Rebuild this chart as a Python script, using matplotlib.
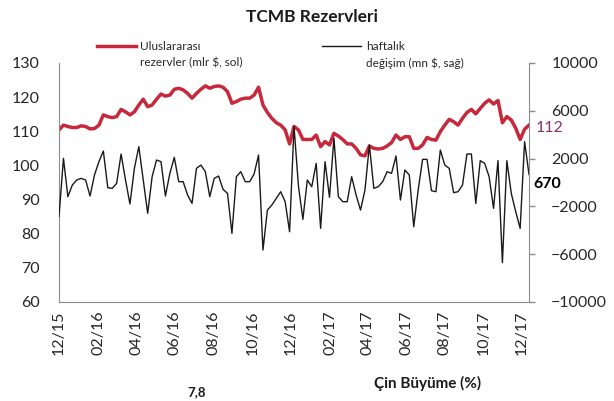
import matplotlib
matplotlib.use("Agg")
import matplotlib.pyplot as plt
from matplotlib.lines import Line2D
import pandas as pd

plt.rcParams['font.family'] = ['Lato', 'DejaVu Sans']

# weekly data, Dec 2015 - Dec 2017
rezerv = [110.4, 111.8, 111.4, 111.1, 111.1, 111.6, 111.4, 110.7, 110.8, 111.8,
          114.8, 114.3, 114.0, 114.3, 116.4, 115.7, 114.8, 115.7, 117.7, 119.4,
          117.2, 117.7, 119.4, 120.9, 120.3, 120.6, 122.3, 122.6,
          122.1, 121.1, 119.7, 121.1, 122.3, 123.3, 122.6, 123.1, 123.3, 122.9,
          121.6, 118.2, 118.7, 119.4, 119.7, 119.7, 120.6, 122.9, 117.7, 115.5,
          113.8, 112.5, 111.8, 110.4, 106.3, 111.4,
          110.4, 107.6, 107.6, 107.6, 108.9, 105.5, 107.0, 106.0, 109.4, 108.6,
          107.6, 106.3, 106.3, 105.0, 103.1, 102.8, 105.7, 105.0, 104.8, 105.0,
          105.7, 106.7, 108.9, 107.6, 108.4, 108.4, 105.0, 105.0,
          106.0, 108.2, 107.6, 107.4, 109.9, 111.8, 113.5, 112.8, 111.8, 113.8,
          115.5, 116.4, 115.1, 116.7, 118.2, 119.2, 118.0, 119.0, 112.5, 114.3,
          113.3, 110.9, 107.6, 110.6, 111.8]
haftalik = [-2862, 2020, -1188, -212, 207, 346, 207, -1132, 625, 1741,
            2634, -435, -491, -72, 2383, 207, -1802, 1184, 2997, 207,
            -2583, 486, 1881, 1741, -1132, 765, 2104, 67,
            67, -1049, -1746, 1184, 1462, 905, -1188, 346, 542, -574,
            -909, -4257, 486, 905, 67, 67, 709, 2299, -5652, -2304,
            -1886, -1328, -770, -1607, -4118, 4700,
            -300, -3085, 207, -351, 1602, -3839, 1741, -1244, 3694, -1188,
            -1607, -1607, 486, -1049, -2304, -630, 3137, -491, -351, 67,
            905, 765, 2216, -1467, 1044, 625, -3699, -630,
            1937, 1937, -686, -770, 2718, 1462, 1184, -853, -770, -212,
            2383, 2383, -1746, 1825, 1602, 486, -2165, 1825, -6712, 1825,
            -909, -2444, -3839, 3416, 670]
tarih = pd.date_range('2015-12-04', periods=len(rezerv), freq='7D')
sol_ticks = list(range(60, 131, 10))
sag_ticks = list(range(-10000, 10001, 4000))

red = '#C8283C'
grey = '#8C8C8C'
txt = '#262626'

fig = plt.figure(figsize=(6.14, 4.01), dpi=100)
ax = fig.add_axes([0.0961, 0.2469, 0.7655, 0.596])
ax2 = ax.twinx()

ax.plot(tarih, rezerv, color=red, lw=2.5, solid_joinstyle='round')
ax2.plot(tarih, haftalik, color='#1a1a1a', lw=1.0)

ax.set_xlim(tarih[0], tarih[-1])
ax.set_ylim(60, 130)
ax.set_yticks(sol_ticks)
ax2.set_ylim(-10000, 10000)
ax2.set_yticks(sag_ticks)

xt = pd.date_range(tarih[0], tarih[-1], freq=pd.DateOffset(months=2))
ax.set_xticks(xt)
ax.set_xticklabels([d.strftime('%m/%y') for d in xt], rotation=90)

ax.tick_params(axis='y', length=0, pad=14, labelsize=11.5, labelcolor=txt)
ax.tick_params(axis='x', length=0, pad=6, labelsize=11.5, labelcolor=txt)
ax2.tick_params(axis='y', length=4, width=1, color=grey, pad=12,
                labelsize=11.5, labelcolor=txt)

for s in ['top', 'right']:
    ax.spines[s].set_visible(False)
for s in ['top', 'left', 'bottom']:
    ax2.spines[s].set_visible(False)
ax.spines['left'].set_color(grey)
ax.spines['bottom'].set_color(grey)
ax2.spines['right'].set_color(grey)

# end labels
ax.annotate(f'{rezerv[-1]:.0f}', xy=(tarih[-1], rezerv[-1]), xytext=(5, -2),
            textcoords='offset points', va='center', ha='left',
            color='#8E2F6E', fontsize=11.5)
ax2.annotate(f'{haftalik[-1]}', xy=(tarih[-1], haftalik[-1]), xytext=(3, -2),
             textcoords='offset points', va='top', ha='left',
             color='black', fontsize=11.5, fontweight='bold')

# title and legend
fig.text(312 / 614, 1 - 17 / 401, 'TCMB Rezervleri', ha='center', va='center',
         fontsize=12.5, fontweight='bold', color='#1a1a1a')
fig.add_artist(Line2D([97 / 614, 136 / 614], [1 - 46 / 401] * 2, color=red, lw=2.5))
fig.text(140 / 614, 1 - 46 / 401, 'Uluslararası', va='center', fontsize=8.5, color=txt)
fig.text(140 / 614, 1 - 63 / 401, 'rezervler (mlr $, sol)', va='center', fontsize=8.5, color=txt)
fig.add_artist(Line2D([322 / 614, 361 / 614], [1 - 46 / 401] * 2, color='#1a1a1a', lw=1.0))
fig.text(366 / 614, 1 - 46 / 401, 'haftalık', va='center', fontsize=8.5, color=txt)
fig.text(366 / 614, 1 - 63 / 401, 'değişim (mn $, sağ)', va='center', fontsize=8.5, color=txt)

# cut-off text of the next chart
fig.text(428 / 614, 1 - 383 / 401, 'Çin Büyüme (%)', ha='center', va='center',
         fontsize=11, fontweight='bold', color='#1a1a1a')
fig.text(197 / 614, 1 - 392 / 401, '7,8', ha='center', va='center',
         fontsize=9.5, fontweight='bold', color='#1a1a1a')

fig.savefig('out.png', dpi=100)
